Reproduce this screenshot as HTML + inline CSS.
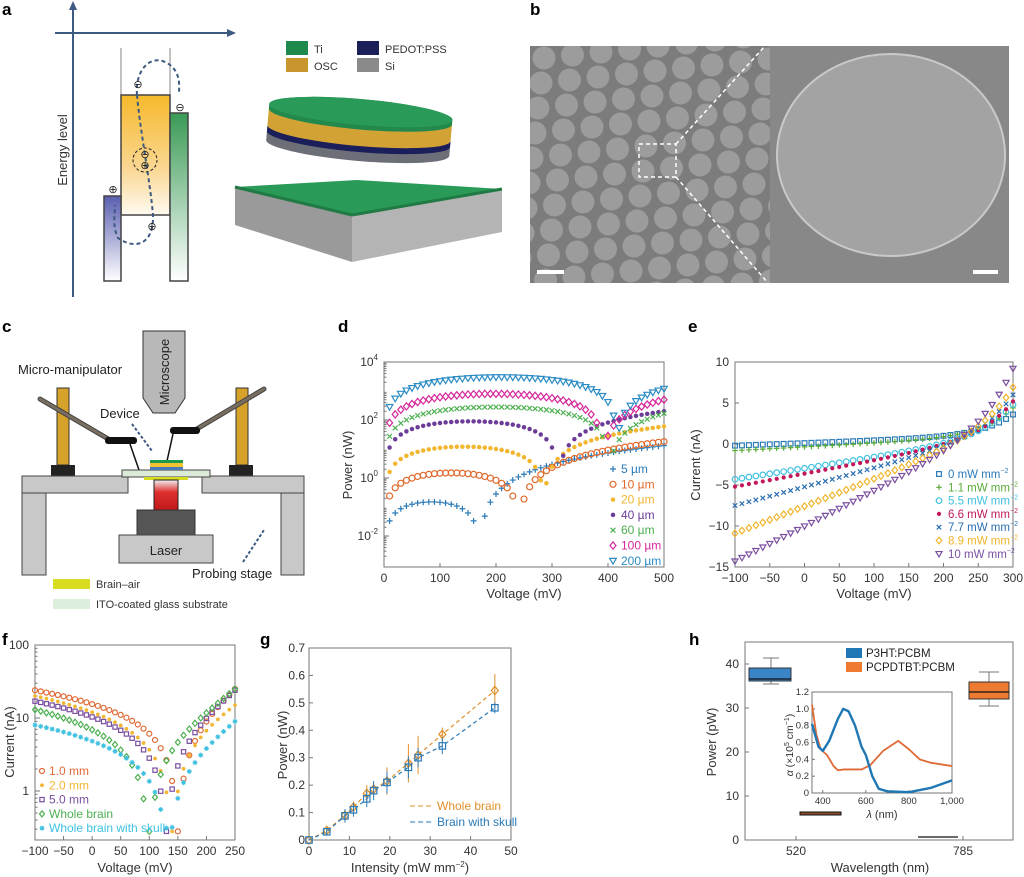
<!DOCTYPE html>
<html><head><meta charset="utf-8"><style>
html,body{margin:0;padding:0;background:#fff;}
svg{display:block;font-family:"Liberation Sans",sans-serif;}
</style></head><body>
<svg id="s" width="1024" height="877" viewBox="0 0 1024 877" xmlns="http://www.w3.org/2000/svg">
<defs>
<linearGradient id="go" x1="0" y1="0" x2="0" y2="1"><stop offset="0" stop-color="#f6b92b"/><stop offset="0.6" stop-color="#fad690"/><stop offset="1" stop-color="#fffaf0"/></linearGradient>
<linearGradient id="gg" x1="0" y1="0" x2="0" y2="1"><stop offset="0" stop-color="#3a9a55"/><stop offset="1" stop-color="#ffffff"/></linearGradient>
<linearGradient id="gb" x1="0" y1="0" x2="0" y2="1"><stop offset="0" stop-color="#5a5fb0"/><stop offset="1" stop-color="#ffffff"/></linearGradient>
<linearGradient id="gr" x1="0" y1="0" x2="0" y2="1"><stop offset="0" stop-color="#f0f0f0"/><stop offset="0.4" stop-color="#e03030"/><stop offset="1" stop-color="#c01818"/></linearGradient>
<clipPath id="cb"><rect x="530" y="46" width="240" height="237"/></clipPath>
</defs>
<g font-weight="bold" font-size="17" fill="#000">
<text x="2" y="15">a</text><text x="530" y="15">b</text><text x="2" y="332">c</text><text x="338" y="332">d</text><text x="688" y="332">e</text><text x="2" y="645">f</text><text x="260" y="645">g</text><text x="689" y="645">h</text>
</g>
<!-- panel a -->
<g>
<line x1="73" y1="297" x2="73" y2="6" stroke="#3d5a80" stroke-width="2"/>
<polygon points="73,1 69,10 77,10" fill="#3d5a80"/>
<line x1="55" y1="33" x2="230" y2="33" stroke="#3d5a80" stroke-width="2"/>
<polygon points="236,33 227,29 227,37" fill="#3d5a80"/>
<text x="67" y="150" font-size="13" fill="#333" transform="rotate(-90 67 150)" text-anchor="middle">Energy level</text>
<line x1="121" y1="48" x2="121" y2="95" stroke="#999" stroke-width="1.2"/>
<line x1="170" y1="48" x2="170" y2="95" stroke="#999" stroke-width="1.2"/>
<rect x="121" y="95" width="49" height="120" fill="url(#go)" stroke="#444" stroke-width="1.5"/>
<rect x="170" y="113" width="18" height="168" fill="url(#gg)" stroke="#444" stroke-width="1.5"/>
<rect x="104" y="196" width="17" height="85" fill="url(#gb)" stroke="#444" stroke-width="1.5"/>
<path d="M137,95 C140,130 150,180 153,215 C154,245 135,250 118,238 C112,225 115,215 115,205" fill="none" stroke="#3d5a80" stroke-width="2" stroke-dasharray="4,3"/>
<path d="M137,95 C135,70 150,55 165,62 C178,68 180,80 179,92" fill="none" stroke="#3d5a80" stroke-width="2" stroke-dasharray="4,3"/>
<circle cx="145" cy="160" r="12" fill="none" stroke="#222" stroke-dasharray="3,2"/>
<g font-size="11" fill="#222" text-anchor="middle"><text x="145" y="158">⊖</text><text x="145" y="169">⊕</text><text x="138" y="88">⊖</text><text x="180" y="111">⊖</text><text x="113" y="193">⊕</text><text x="152" y="230">⊕</text></g>
<rect x="286" y="41" width="22" height="14" fill="#1f8a4c"/><rect x="286" y="58" width="22" height="14" fill="#c8962c"/>
<rect x="357" y="41" width="22" height="14" fill="#1b1f5a"/><rect x="357" y="58" width="22" height="14" fill="#8a8a8a"/>
<g font-size="11" fill="#333"><text x="314" y="53">Ti</text><text x="314" y="70">OSC</text><text x="385" y="53">PEDOT:PSS</text><text x="385" y="70">Si</text></g>
<polygon points="235,187 357,180 502,189 352,215" fill="#2a9a58"/>
<polygon points="235,187 352,215 352,262 235,225" fill="#9a9a9a"/>
<polygon points="352,215 502,189 502,232 352,262" fill="#b4b4b4"/>
<line x1="235" y1="187" x2="352" y2="215" stroke="#1f7a44" stroke-width="3"/>
<line x1="352" y1="215" x2="502" y2="189" stroke="#1f7a44" stroke-width="3"/>
<g id="disc" transform="rotate(5 360 122)"></g>
</g>
<!-- panel b -->
<g>
<rect x="530" y="46" width="240" height="237" fill="#7c7c7c"/>
<g id="dots" fill="#9c9c9c" clip-path="url(#cb)"></g>
<rect x="770" y="46" width="239" height="237" fill="#888"/>
<ellipse cx="891" cy="155" rx="114" ry="101" fill="#a3a3a3" stroke="#c9c9c9" stroke-width="2"/>
<rect x="639" y="144" width="37" height="33" fill="none" stroke="#fff" stroke-width="1.5" stroke-dasharray="4,3"/>
<line x1="676" y1="144" x2="765" y2="46" stroke="#fff" stroke-width="1.5" stroke-dasharray="4,3"/>
<line x1="676" y1="177" x2="768" y2="283" stroke="#fff" stroke-width="1.5" stroke-dasharray="4,3"/>
<rect x="537" y="270" width="27" height="4" fill="#fff"/><rect x="973" y="270" width="25" height="4" fill="#fff"/>
</g>
<!-- panel c -->
<g>
<polygon points="143,331 185,331 185,398 175,413 153,413 143,398" fill="#b8b8b8" stroke="#333"/>
<text x="169" y="372" font-size="13" fill="#222" transform="rotate(-90 169 372)" text-anchor="middle">Microscope</text>
<text x="18" y="374" font-size="13" fill="#222">Micro-manipulator</text>
<text x="100" y="418" font-size="13" fill="#222">Device</text>
<line x1="132" y1="424" x2="152" y2="451" stroke="#3d5a80" stroke-width="2" stroke-dasharray="3,2"/>
<rect x="57" y="388" width="12" height="77" fill="#d6a22a" stroke="#333"/>
<rect x="236" y="388" width="12" height="77" fill="#d6a22a" stroke="#333"/>
<line x1="40" y1="399" x2="110" y2="440" stroke="#444" stroke-width="5" stroke-linecap="round"/>
<line x1="40" y1="399" x2="110" y2="440" stroke="#7a6e60" stroke-width="3" stroke-linecap="round"/>
<line x1="264" y1="389" x2="195" y2="430" stroke="#444" stroke-width="5" stroke-linecap="round"/>
<line x1="264" y1="389" x2="195" y2="430" stroke="#7a6e60" stroke-width="3" stroke-linecap="round"/>
<rect x="105" y="437" width="32" height="7" rx="3" fill="#111"/><rect x="170" y="427" width="30" height="7" rx="3" fill="#111"/>
<line x1="130" y1="444" x2="139" y2="470" stroke="#111" stroke-width="1.5"/><line x1="173" y1="434" x2="167" y2="461" stroke="#111" stroke-width="1.5"/>
<rect x="51" y="465" width="24" height="11" fill="#222"/><rect x="229" y="465" width="24" height="11" fill="#222"/>
<rect x="22" y="476" width="106" height="17" fill="#c8c8c8" stroke="#444"/>
<rect x="202" y="476" width="102" height="17" fill="#c8c8c8" stroke="#444"/>
<rect x="22" y="493" width="24" height="82" fill="#c8c8c8" stroke="#444"/>
<rect x="281" y="493" width="23" height="82" fill="#c8c8c8" stroke="#444"/>
<rect x="122" y="470" width="88" height="7" fill="#dcebd8" stroke="#444"/>
<rect x="144" y="477" width="44" height="3" fill="#d8dc20"/>
<rect x="150" y="460" width="33" height="3" fill="#1f9a4c"/><rect x="150" y="463" width="33" height="4" fill="#f2c230"/><rect x="150" y="467" width="33" height="3" fill="#4a7ab8"/>
<rect x="154" y="480" width="24" height="30" fill="url(#gr)" stroke="#222"/>
<rect x="137" y="510" width="58" height="25" fill="#555" stroke="#333"/>
<rect x="119" y="535" width="94" height="28" fill="#c8c8c8" stroke="#444"/>
<text x="166" y="555" font-size="13" fill="#222" text-anchor="middle">Laser</text>
<line x1="243" y1="562" x2="264" y2="530" stroke="#3d5a80" stroke-width="2" stroke-dasharray="3,2"/>
<text x="192" y="578" font-size="13" fill="#222">Probing stage</text>
<rect x="53" y="579" width="37" height="10" fill="#d8dc20"/><rect x="53" y="599" width="37" height="10" fill="#dcefdc"/>
<text x="96" y="588" font-size="11" fill="#333">Brain–air</text><text x="96" y="608" font-size="11" fill="#333">ITO-coated glass substrate</text>
</g>
<g id="plots"></g>
</svg>
<script>
var P=document.getElementById('plots'),out='';
(function(){var s='';for(var r=-1;r<11;r++){for(var c=-1;c<10;c++){var x=530+c*28.5+r*(-3)+14,y=46+r*25+c*(-3)+12;s+='<circle cx="'+x+'" cy="'+y+'" r="11.5"/>';}}
document.getElementById('dots').innerHTML=s;})();
(function(){var s='';for(var o=36;o>=0;o-=1.5){var c=o>28?'#6c6e78':(o>22?'#1b1f5a':(o>5?'#d3a235':'#22884c'));s+='<ellipse cx="360" cy="'+(112+o)+'" rx="92" ry="13" fill="'+c+'"/>';}
s+='<ellipse cx="360" cy="112" rx="92" ry="13" fill="#2a9a58"/>';document.getElementById('disc').innerHTML=s;})();
function mk(t,x,y,c,sz){sz=sz||3;var s='';
if(t=='+')s='<path d="M'+(x-sz)+','+y+'h'+(2*sz)+'M'+x+','+(y-sz)+'v'+(2*sz)+'" stroke="'+c+'" stroke-width="1.2"/>';
else if(t=='x')s='<path d="M'+(x-sz*.8)+','+(y-sz*.8)+'l'+(1.6*sz)+','+(1.6*sz)+'M'+(x-sz*.8)+','+(y+sz*.8)+'l'+(1.6*sz)+','+(-1.6*sz)+'" stroke="'+c+'" stroke-width="1.2"/>';
else if(t=='o')s='<circle cx="'+x+'" cy="'+y+'" r="'+sz+'" fill="none" stroke="'+c+'" stroke-width="1.2"/>';
else if(t=='.')s='<circle cx="'+x+'" cy="'+y+'" r="'+(sz*.75)+'" fill="'+c+'"/>';
else if(t=='s')s='<rect x="'+(x-sz*.85)+'" y="'+(y-sz*.85)+'" width="'+(1.7*sz)+'" height="'+(1.7*sz)+'" fill="none" stroke="'+c+'" stroke-width="1.2"/>';
else if(t=='d')s='<path d="M'+x+','+(y-sz*1.2)+'l'+sz+','+sz*1.2+'l'+(-sz)+','+sz*1.2+'l'+(-sz)+','+(-sz*1.2)+'z" fill="none" stroke="'+c+'" stroke-width="1.2"/>';
else if(t=='v')s='<path d="M'+(x-sz*1.1)+','+(y-sz*.8)+'h'+(2.2*sz)+'l'+(-1.1*sz)+','+(1.9*sz)+'z" fill="none" stroke="'+c+'" stroke-width="1.2"/>';
else if(t=='*')s='<path d="M'+(x-sz)+','+y+'h'+(2*sz)+'M'+x+','+(y-sz)+'v'+(2*sz)+'M'+(x-sz*.7)+','+(y-sz*.7)+'l'+(1.4*sz)+','+(1.4*sz)+'M'+(x-sz*.7)+','+(y+sz*.7)+'l'+(1.4*sz)+','+(-1.4*sz)+'" stroke="'+c+'" stroke-width="1.1"/>';
return s;}
function T(x,y,s,o){o=o||{};return '<text x="'+x+'" y="'+y+'" font-size="'+(o.fs||12)+'" fill="'+(o.c||'#333')+'" text-anchor="'+(o.a||'middle')+'"'+(o.r?' transform="rotate(-90 '+x+' '+y+')"':'')+'>'+s+'</text>';}
function box(x1,y1,x2,y2){return '<rect x="'+x1+'" y="'+y1+'" width="'+(x2-x1)+'" height="'+(y2-y1)+'" fill="none" stroke="#777" stroke-width="1"/>';}
function tk(x1,y1,x2,y2){return '<line x1="'+x1+'" y1="'+y1+'" x2="'+x2+'" y2="'+y2+'" stroke="#777" stroke-width="1"/>';}
// d
(function(){var X0=384,X1=664,Y0=362,Yb=567,dec=29;
function X(v){return X0+(X1-X0)*v/500;}function Y(p){return Y0+(4-Math.log10(p))*dec;}
var s=box(X0,Y0,X1,Yb);
[0,100,200,300,400,500].forEach(function(v){s+=tk(X(v),Yb,X(v),Yb-4)+T(X(v),Yb+15,v);});
[4,2,0,-2].forEach(function(e){var y=Y(Math.pow(10,e));s+=tk(X0,y,X0+5,y)+'<text x="'+(X0-6)+'" y="'+(y+4)+'" font-size="12" fill="#333" text-anchor="end">10<tspan font-size="8" dy="-6">'+e+'</tspan></text>';});
for(var e=-3;e<4;e++)for(var k=2;k<10;k++){var y=Y(k*Math.pow(10,e));if(y>Y0&&y<Yb)s+=tk(X0,y,X0+2.5,y);}
s+=T(352,465,'Power (nW)',{fs:13,r:1})+T(524,598,'Voltage (mV)',{fs:13});
var ser=[['+','#2a7ab8',170,0.15,13,'5 µm',1.6],['o','#e0672a',240,1.5,18,'10 µm',1.4],['.','#f2b630',285,12,60,'20 µm',1.2],['.','#6c3d98',310,90,200,'40 µm',1.2],['x','#4caf50',400,280,170,'60 µm',1.3],['d','#d6289a',390,800,500,'100 µm',1.2],['v','#2b8cc4',415,3000,1200,'200 µm',1.1]];
ser.forEach(function(q,i){for(var v=10;v<=500;v+=10){var p;if(v<q[2])p=q[3]*4*v*(q[2]-v)/q[2]/q[2];else p=q[4]*Math.pow((v-q[2])/(500-q[2]),q[6]);
if(Math.abs(v-q[2])<3)continue;if(p<0.012)p=0.012+Math.abs(v-q[2])*0.001;s+=mk(q[0],X(v),Y(p),q[1],3);}
var ly=469+i*15.3;s+=mk(q[0],613,ly,q[1],3)+T(621,ly+4,q[5],{a:'start',c:q[1],fs:12});});
out+=s;})();
// e
(function(){var X0=735,X1=1013,Y0=362,Yb=567;function X(v){return X0+(X1-X0)*(v+100)/400;}function Y(i){return Y0+(10-i)*(Yb-Y0)/25;}
var s=box(X0,Y0,X1,Yb);
[-100,-50,0,50,100,150,200,250,300].forEach(function(v){s+=tk(X(v),Yb,X(v),Yb-4)+T(X(v),Yb+15,(v<0?'−':'')+Math.abs(v));});
[10,5,0,-5,-10,-15].forEach(function(v){s+=tk(X0,Y(v),X0+4,Y(v))+T(X0-6,Y(v)+4,(v<0?'−':'')+Math.abs(v),{a:'end'});});
s+=T(700,465,'Current (nA)',{fs:13,r:1})+T(874,598,'Voltage (mV)',{fs:13});
var ser=[['s','#2a7ab8',-0.2,3.6,200,1.0,'0'],['+','#5aaa3a',-0.8,4.4,200,0.9,'1.1'],['o','#3fc1e0',-4.3,4.8,200,0.1,'5.5'],['.','#c2185b',-5.2,5.2,200,0,'6.6'],['x','#2a6fb0',-7.5,6.0,200,-0.2,'7.7'],['d','#f0b429',-10.9,6.9,200,-0.5,'8.9'],['v','#7b4fa0',-14.3,9.2,200,-0.8,'10']];
ser.forEach(function(q,i){var w=45,g=function(v){return Math.exp((v-300)/w);};
var a1=400,b1=1-g(-100),a2=q[4]+100,b2=g(q[4])-g(-100),r1=q[3]-q[2],r2=q[5]-q[2],det=a1*b2-a2*b1,sl=(r1*b2-r2*b1)/det,E=(a1*r2-a2*r1)/det;
for(var v=-100;v<=300;v+=10){var I=q[2]+sl*(v+100)+E*(g(v)-g(-100));s+=mk(q[0],X(v),Y(I),q[1],2.8);}
var ly=474+i*13.3;s+=mk(q[0],939,ly,q[1],2.8)+'<text x="948" y="'+(ly+4)+'" font-size="11.5" fill="'+q[1]+'">'+q[6]+' mW mm<tspan font-size="7" dy="-5">−2</tspan></text>';});
out+=s;})();
// f
(function(){var X0=35,X1=235,Y0=645,Yb=840,dec=73;function X(v){return X0+(X1-X0)*(v+100)/350;}function Y(p){return Y0+(2-Math.log10(p))*dec;}
var s=box(X0,Y0,X1,Yb);
[-100,-50,0,50,100,150,200,250].forEach(function(v){s+=tk(X(v),Yb,X(v),Yb-4)+T(X(v),Yb+15,(v<0?'−':'')+Math.abs(v));});
[100,10,1].forEach(function(v){s+=tk(X0,Y(v),X0+5,Y(v))+T(X0-6,Y(v)+4,v,{a:'end'});});
for(var e=-1;e<2;e++)for(var k=2;k<10;k++){var y=Y(k*Math.pow(10,e));if(y>Y0&&y<Yb)s+=tk(X0,y,X0+2.5,y);}
s+=T(14,742,'Current (nA)',{fs:13,r:1})+T(135,872,'Voltage (mV)',{fs:13});
var ser=[['o','#e06a35',24,150,25,'1.0 mm'],['.','#f2b630',20,140,15,'2.0 mm'],['s','#7b4fa0',17,130,24,'5.0 mm'],['d','#4caf50',13,100,25,'Whole brain'],['*','#3fc1e0',8,133,9,'Whole brain with skull']];
ser.forEach(function(q,i){var w=55,g=function(v){return Math.exp((v-250)/w);};
var y1=q[2],vo=q[3],y2=q[4];
var a1=350,b1=1-g(-100),a2=vo+100,b2=g(vo)-g(-100),r1=y2+y1,r2=y1,det=a1*b2-a2*b1,sl=(r1*b2-r2*b1)/det,E=(a1*r2-a2*r1)/det;
for(var v=-100;v<=250;v+=10){var I=Math.abs(-y1+sl*(v+100)+E*(g(v)-g(-100)));if(I<0.28)I=0.28+Math.abs(v-vo)*0.01;if(!isFinite(I))continue;s+=mk(q[0],X(v),Y(I),q[1],2.5);}
var ly=771+i*14.3;s+=mk(q[0],42,ly,q[1],2.5)+T(49,ly+4,q[5],{a:'start',c:q[1],fs:12});});
out+=s;})();
// g
(function(){var X0=309,X1=511,Y0=648,Yb=840;function X(v){return X0+(X1-X0)*v/50;}function Y(p){return Yb-(Yb-Y0)*p/0.7;}
var s=box(X0,Y0,X1,Yb);
[0,10,20,30,40,50].forEach(function(v){s+=tk(X(v),Yb,X(v),Yb-4)+T(X(v),Yb+15,v);});
[0,0.1,0.2,0.3,0.4,0.5,0.6,0.7].forEach(function(v){s+=tk(X0,Y(v),X0+4,Y(v))+T(X0-4,Y(v)+4,v,{a:'end'});});
s+=T(287,745,'Power (nW)',{fs:13,r:1})+'<text x="410" y="872" font-size="13" fill="#333" text-anchor="middle">Intensity (mW mm<tspan font-size="8" dy="-5">−2</tspan><tspan dy="5">)</tspan></text>';
var xs=[0,4.4,8.9,11,14.3,16,19.3,24.6,27,33,46],o=[0,0.035,0.09,0.12,0.17,0.185,0.215,0.28,0.31,0.385,0.545],b=[0,0.03,0.088,0.11,0.15,0.18,0.21,0.265,0.30,0.343,0.482],eo=[0,0.01,0.02,0.02,0.03,0.02,0.05,0.07,0.07,0.025,0.06],eb=[0,0.01,0.025,0.025,0.03,0.035,0.04,0.04,0.035,0.03,0.02];
function line(a,c){return '<polyline points="'+xs.map(function(x,i){return X(x)+','+Y(a[i]);}).join(' ')+'" fill="none" stroke="'+c+'" stroke-width="1.2" stroke-dasharray="4,3"/>';}
s+=line(o,'#e0902a')+line(b,'#2a7ab8');
xs.forEach(function(x,i){s+='<line x1="'+X(x)+'" y1="'+Y(o[i]-eo[i])+'" x2="'+X(x)+'" y2="'+Y(o[i]+eo[i])+'" stroke="#e0902a"/>'+mk('d',X(x),Y(o[i]),'#e0902a',3.5);
s+='<line x1="'+X(x)+'" y1="'+Y(b[i]-eb[i])+'" x2="'+X(x)+'" y2="'+Y(b[i]+eb[i])+'" stroke="#2a7ab8"/>'+mk('s',X(x),Y(b[i]),'#2a7ab8',3.8);});
s+='<line x1="410" y1="806" x2="432" y2="806" stroke="#e0902a" stroke-dasharray="5,3"/>'+T(437,810,'Whole brain',{a:'start',c:'#e0902a'});
s+='<line x1="410" y1="822" x2="432" y2="822" stroke="#2a7ab8" stroke-dasharray="5,3"/>'+T(437,826,'Brain with skull',{a:'start',c:'#2a7ab8'});
out+=s;})();
// h
(function(){var X0=745,X1=1013,Y0=642,Yb=840;function Y(p){return Yb-(Yb-664)*p/40;}
var s=box(X0,Y0,X1,Yb);
[[796,'520'],[963,'785']].forEach(function(a){s+=tk(a[0],Yb,a[0],Yb-4)+T(a[0],Yb+15,a[1]);});
[0,10,20,30,40].forEach(function(v){s+=tk(X0,Y(v),X0+4,Y(v))+T(X0-6,Y(v)+4,v,{a:'end'});});
s+=T(716,742,'Power (pW)',{fs:13,r:1})+T(880,872,'Wavelength (nm)',{fs:13});
s+='<line x1="771" y1="658" x2="771" y2="684" stroke="#777"/><line x1="763" y1="658" x2="779" y2="658" stroke="#777"/><line x1="763" y1="684" x2="779" y2="684" stroke="#777"/>';
s+='<rect x="749" y="668" width="42" height="13" fill="#3a85c8" stroke="#333"/><line x1="749" y1="679" x2="791" y2="679" stroke="#111" stroke-width="1.2"/>';
s+='<line x1="989" y1="672" x2="989" y2="706" stroke="#777"/><line x1="979" y1="672" x2="999" y2="672" stroke="#777"/><line x1="979" y1="706" x2="999" y2="706" stroke="#777"/>';
s+='<rect x="969" y="682" width="40" height="17" fill="#ec7a30" stroke="#333"/><line x1="969" y1="692" x2="1009" y2="692" stroke="#111" stroke-width="1.2"/>';
s+='<rect x="800" y="812" width="41" height="3" fill="#8a4a2a" stroke="#111"/><line x1="918" y1="837" x2="958" y2="837" stroke="#111" stroke-width="1.2"/>';
s+='<rect x="846" y="648" width="16" height="10" fill="#1f77b4"/>'+T(866,657,'P3HT:PCBM',{a:'start',fs:11.5,c:'#222'});
s+='<rect x="846" y="662" width="16" height="10" fill="#f07a30"/>'+T(866,671,'PCPDTBT:PCBM',{a:'start',fs:11.5,c:'#222'});
var ix0=812,ix1=952,iy0=692,iy1=793;function IX(l){return ix0+(ix1-ix0)*(l-350)/650;}function IY(a){return iy1-(iy1-iy0)*a/1.2;}
s+='<rect x="'+ix0+'" y="'+iy0+'" width="'+(ix1-ix0)+'" height="'+(iy1-iy0)+'" fill="#fff" stroke="#777"/>';
[[400,'400'],[600,'600'],[800,'800'],[1000,'1,000']].forEach(function(a){s+=tk(IX(a[0]),iy1,IX(a[0]),iy1-3)+T(IX(a[0]),iy1+11,a[1],{fs:9.5});});
[0,0.2,0.4,0.6,0.8,1.0,1.2].forEach(function(v){s+=tk(ix0,IY(v),ix0+3,IY(v))+T(ix0-3,IY(v)+3,v==1?'1.0':v,{a:'end',fs:9.5});});
s+='<text x="793" y="745" font-size="10.5" fill="#333" text-anchor="middle" transform="rotate(-90 793 745)"><tspan font-style="italic">α</tspan> (×10<tspan font-size="7" dy="-4">5</tspan><tspan dy="4"> cm</tspan><tspan font-size="7" dy="-4">−1</tspan><tspan dy="4">)</tspan></text>';
s+='<text x="882" y="818" font-size="11" fill="#333" text-anchor="middle"><tspan font-style="italic">λ</tspan> (nm)</text>';
var bl=[[350,0.82],[380,0.55],[400,0.5],[430,0.62],[470,0.88],[495,1.0],[520,0.97],[550,0.8],[580,0.55],[600,0.45],[630,0.2],[660,0.05],[700,0.02],[800,0.01],[900,0.06],[1000,0.15]];
var or=[[350,1.05],[370,0.7],[390,0.52],[420,0.45],[450,0.32],[470,0.27],[500,0.28],[580,0.28],[620,0.33],[680,0.5],[750,0.62],[800,0.52],[850,0.4],[900,0.36],[1000,0.32]];
function pl(a,c,w){return '<polyline points="'+a.map(function(p){return IX(p[0])+','+IY(p[1]);}).join(' ')+'" fill="none" stroke="'+c+'" stroke-width="'+w+'" stroke-linejoin="round"/>';}
s+=pl(or,'#e06a35',1.8)+pl(bl,'#1f77b4',2.4);
out+=s;})();
P.innerHTML=out;
</script>
</body></html>
